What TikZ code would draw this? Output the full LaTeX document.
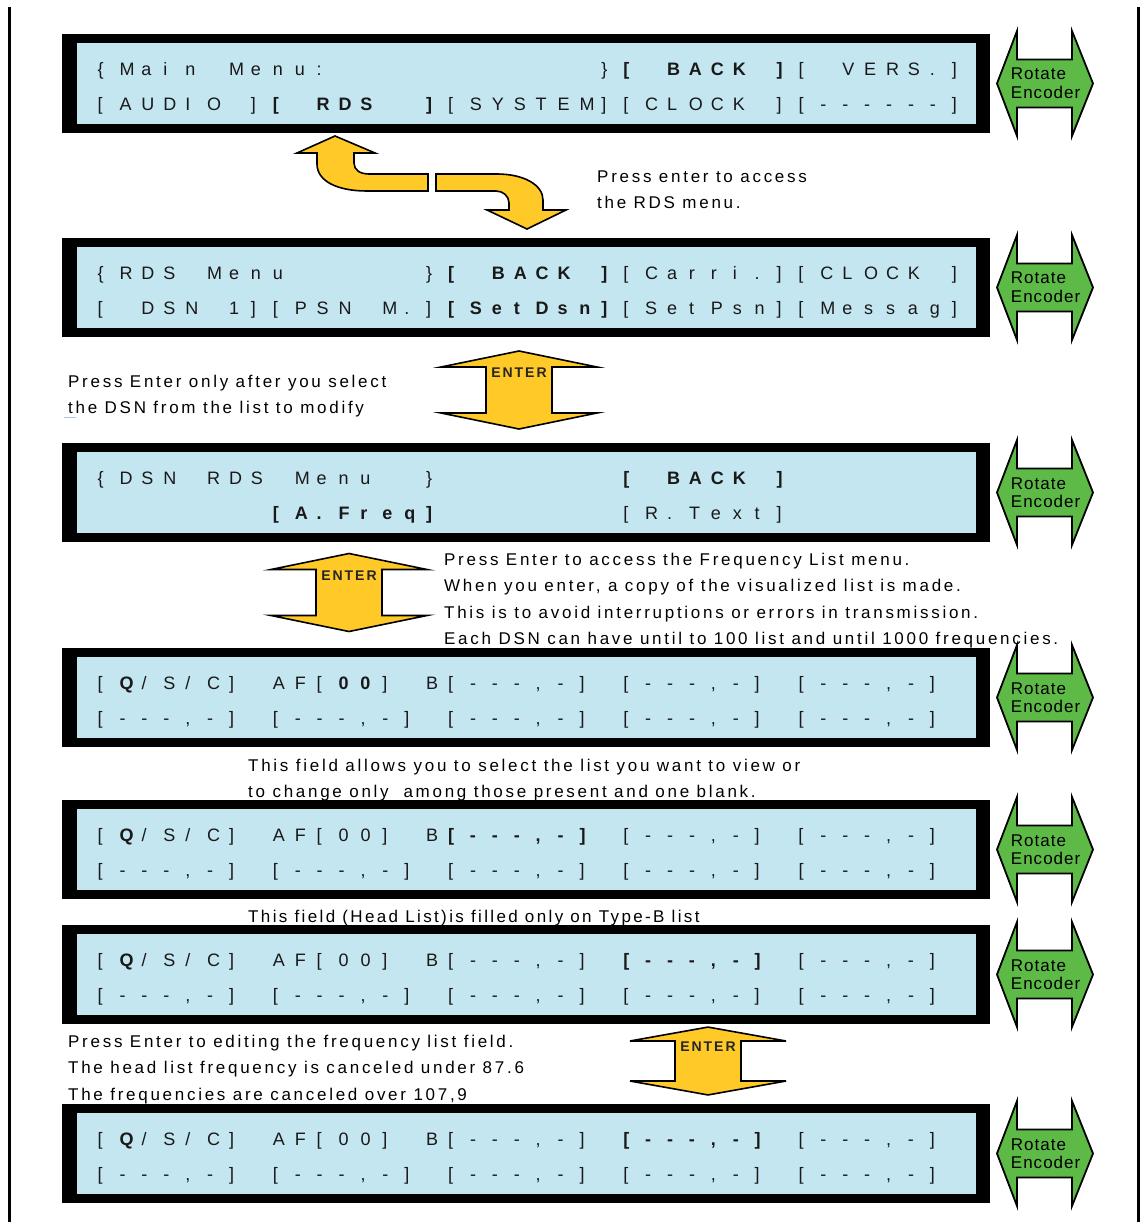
\documentclass[tikz,border=0pt]{standalone}
\usepackage{fontspec}
\setmainfont{Liberation Sans}
\newfontfamily\notefont[LetterSpace=16]{Liberation Sans}
\newfontfamily\tightfont[LetterSpace=14]{Liberation Sans}
\newfontfamily\encfont[LetterSpace=6]{Liberation Sans}
\newfontfamily\enterfont[LetterSpace=14]{Liberation Sans}
\usepackage{xcolor}
\usetikzlibrary{positioning,calc}

\definecolor{lcdblue}{RGB}{196,230,240}
\definecolor{encgreen}{RGB}{94,186,71}
\definecolor{enteryellow}{RGB}{255,201,40}
\definecolor{markblue}{RGB}{176,196,222}

% fixed pitch cells of the 40x2 display
\newlength{\lcdpitch}
\setlength{\lcdpitch}{21.9pt}
\makeatletter
\def\lcdbf{lcdbf}
\def\lcdmd{lcdmd}
\newcommand{\lcd}[1]{\let\lcdweight\mdseries\@tfor\lcdtok:=#1\do{\lcdcell}}
\newcommand{\lcdcell}{%
  \expandafter\ifx\lcdtok\lcdbf\let\lcdweight\bfseries
  \else\expandafter\ifx\lcdtok\lcdmd\let\lcdweight\mdseries
  \else\makebox[\lcdpitch][l]{\lcdweight\lcdtok}\fi\fi}
\makeatother

\begin{document}
\begin{tikzpicture}[
  x=1pt, y=-1pt,
  screen/.style={fill=black, inner sep=0pt, outer sep=0pt, minimum width=928pt, minimum height=99pt,
    path picture={\fill[lcdblue] ([xshift=14.5pt,yshift=-9pt]path picture bounding box.north west)
      rectangle ([xshift=-14.5pt,yshift=9pt]path picture bounding box.south east);}},
  lcdrow/.style={anchor=base west, inner sep=0pt, text=black!90, font=\fontsize{18pt}{20pt}\selectfont},
  note/.style={anchor=base west, align=left, inner sep=0pt, font=\notefont\fontsize{17pt}{26.3pt}\selectfont},
  frame/.style={line width=3.5pt},
  yarrow/.style={fill=enteryellow, draw=black, line width=1.6pt, line join=miter},
  encoder/.pic={
    \filldraw[fill=encgreen, draw=black, line width=1.8pt]
      (-48,0) -- (-28,-52.5) -- (-28,-24) -- (27,-24) -- (27,-52.5) -- (48,0)
      -- (27,52.5) -- (27,24) -- (-28,24) -- (-28,52.5) -- cycle;
    \node[anchor=base west, align=left, inner sep=0pt, font=\encfont\fontsize{17pt}{18.3pt}\selectfont] (-label) at (-34.3,14.8) {Rotate\\Encoder};
  },
  enterarrow/.pic={
    \filldraw[yarrow] (0,-39) -- (78,-23) -- (33,-23) -- (33,23) -- (78,23) -- (0,39)
      -- (-78,23) -- (-33,23) -- (-33,-23) -- (-78,-23) -- cycle;
    \node[inner sep=0pt, text=black!85, font=\enterfont\bfseries\fontsize{14pt}{16pt}\selectfont] (-label) at (0,-17) {ENTER};
  }
]
\useasboundingbox (0,0) rectangle (1144,1222);
\draw[frame] (9.5,7) -- (9.5,1222);
\draw[frame] (1138.5,7) -- (1138.5,1222);

% screens
\node[screen] (scr1) at (526,83.5) {};
\node[screen, below=105pt of scr1] (scr2) {};
\node[screen, below=106pt of scr2] (scr3) {};
\node[screen, below=106pt of scr3] (scr4) {};
\node[screen, below=53pt of scr4] (scr5) {};
\node[screen, below=26pt of scr5] (scr6) {};
\node[screen, below=80pt of scr6] (scr7) {};

\node[lcdrow] (scr1top) at ([xshift=35.5pt,yshift=-41.7pt]scr1.north west) {\lcd{\{Main~Menu:~~~~~~~~~~~~\}\lcdbf[~BACK~]\lcdmd[~VERS.]}};
\node[lcdrow] (scr1bot) at ([xshift=35.5pt,yshift=-76.3pt]scr1.north west) {\lcd{[AUDIO~]\lcdbf[~RDS~~]\lcdmd[SYSTEM][CLOCK~][------]}};
\node[lcdrow] (scr2top) at ([xshift=35.5pt,yshift=-41.7pt]scr2.north west) {\lcd{\{RDS~Menu~~~~~~\}\lcdbf[~BACK~]\lcdmd[Carri.][CLOCK~]}};
\node[lcdrow] (scr2bot) at ([xshift=35.5pt,yshift=-76.3pt]scr2.north west) {\lcd{[~DSN~1][PSN~M.]\lcdbf[SetDsn]\lcdmd[SetPsn][Messag]}};
\node[lcdrow] (scr3top) at ([xshift=35.5pt,yshift=-41.7pt]scr3.north west) {\lcd{\{DSN~RDS~Menu~~\}~~~~~~~~\lcdbf[~BACK~]}};
\node[lcdrow] (scr3bot) at ([xshift=35.5pt,yshift=-76.3pt]scr3.north west) {\lcd{~~~~~~~~\lcdbf[A.Freq]\lcdmd~~~~~~~~[R.Text]}};
\node[lcdrow] (scr4top) at ([xshift=35.5pt,yshift=-41.7pt]scr4.north west) {\lcd{[\lcdbf Q\lcdmd/S/C]~AF[\lcdbf 00\lcdmd]~B[---,-]~[---,-]~[---,-]}};
\node[lcdrow] (scr4bot) at ([xshift=35.5pt,yshift=-76.3pt]scr4.north west) {\lcd{[---,-]~[---,-]~[---,-]~[---,-]~[---,-]}};
\node[lcdrow] (scr5top) at ([xshift=35.5pt,yshift=-41.7pt]scr5.north west) {\lcd{[\lcdbf Q\lcdmd/S/C]~AF[00]~B\lcdbf[---,-]\lcdmd~[---,-]~[---,-]}};
\node[lcdrow] (scr5bot) at ([xshift=35.5pt,yshift=-76.3pt]scr5.north west) {\lcd{[---,-]~[---,-]~[---,-]~[---,-]~[---,-]}};
\node[lcdrow] (scr6top) at ([xshift=35.5pt,yshift=-41.7pt]scr6.north west) {\lcd{[\lcdbf Q\lcdmd/S/C]~AF[00]~B[---,-]~\lcdbf[---,-]\lcdmd~[---,-]}};
\node[lcdrow] (scr6bot) at ([xshift=35.5pt,yshift=-76.3pt]scr6.north west) {\lcd{[---,-]~[---,-]~[---,-]~[---,-]~[---,-]}};
\node[lcdrow] (scr7top) at ([xshift=35.5pt,yshift=-41.7pt]scr7.north west) {\lcd{[\lcdbf Q\lcdmd/S/C]~AF[00]~B[---,-]~\lcdbf[---,-]\lcdmd~[---,-]}};
\node[lcdrow] (scr7bot) at ([xshift=35.5pt,yshift=-76.3pt]scr7.north west) {\lcd{[---,-]~[---,-]~[---,-]~[---,-]~[---,-]}};

% rotate encoder arrows
\foreach \s in {1,...,7}
  \pic (enc\s) at ([xshift=55pt]scr\s.east) {encoder};

% enter arrows
\pic (enter1) at ($(scr2.south)!0.5!(scr3.north)+(-7,0)$) {enterarrow};
\pic (enter2) at ($(scr3.south)!0.5!(scr4.north)+(-177,-2.5)$) {enterarrow};
\pic[yscale=0.87] (enter3) at ($(scr6.south)!0.5!(scr7.north)+(182,-3)$) {enterarrow};

% bent arrows below the main menu
\draw[yarrow] (428,174) -- (369,174) .. controls (360,174) and (354,170) .. (354,163) -- (354,153)
  -- (375,153) -- (335,136) -- (297,153) -- (317,153) -- (317,164)
  .. controls (317,181) and (337,191) .. (367,191) -- (428,191) -- cycle;
\draw[yarrow] (436,174) -- (497,174) .. controls (524,174) and (543,185) .. (543,200) -- (543,210)
  -- (566,210) -- (527,229) -- (487,210) -- (509,210) -- (509,203)
  .. controls (509,196) and (503,191) .. (496,191) -- (436,191) -- cycle;

% notes (base = last line)
\node[note] (note1) at ([xshift=535pt,yshift=-75.8pt]scr1.south west) {Press enter to access\\the RDS menu.};
\node[note] (note2) at ([xshift=6pt,yshift=-76.8pt]scr2.south west) {Press Enter only after you select\\the DSN from the list to modify};
\node[note] (note3) at ([xshift=382pt,yshift=-102.4pt]scr3.south west) {Press Enter to access the Frequency List menu.\\When you enter, a copy of the visualized list is made.\\This is to avoid interruptions or errors in transmission.\\Each DSN can have until to 100 list and until 1000 frequencies.};
\node[note] (note4) at ([xshift=186pt,yshift=-50.8pt]scr4.south west) {This field allows you to select the list you want to view or\\to change only\ \ among those present and one blank.};
\node[note, font=\tightfont\fontsize{17pt}{26.3pt}\selectfont] (note5) at ([xshift=186pt,yshift=-23.5pt]scr5.south west) {This field (Head List)is filled only on Type-B list};
\node[note] (note6) at ([xshift=6pt,yshift=-76.1pt]scr6.south west) {Press Enter to editing the frequency list field.\\The head list frequency is canceled under 87.6\\The frequencies are canceled over 107,9};
\draw[markblue, line width=1.5pt] (64,417.5) -- (76,417.5);
\end{tikzpicture}
\end{document}
